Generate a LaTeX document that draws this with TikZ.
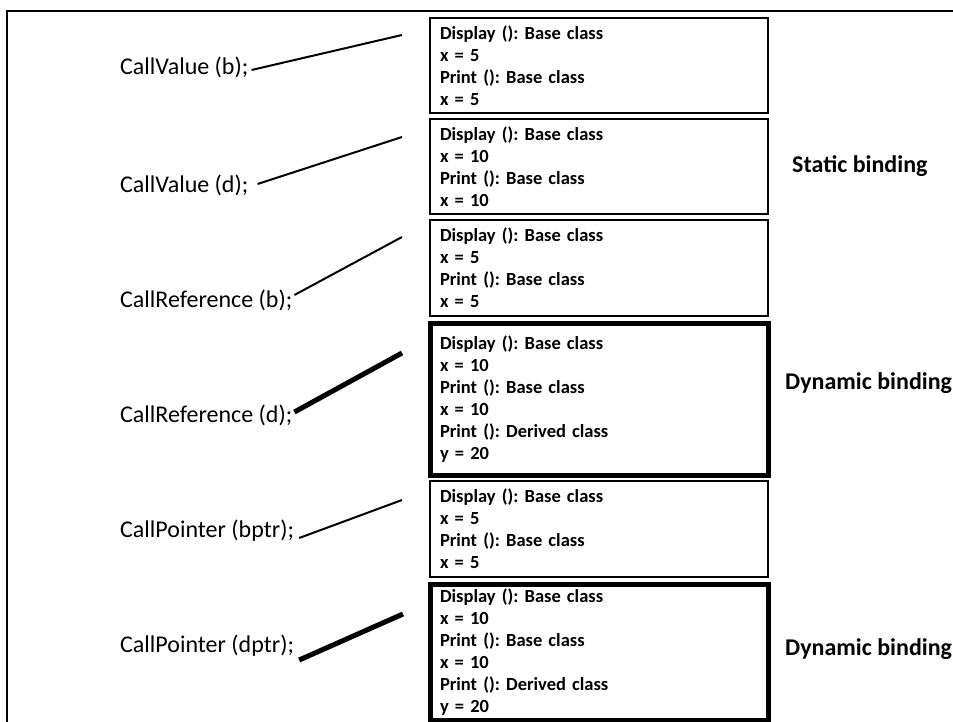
\documentclass[tikz,border=0pt]{standalone}
\usepackage{fontspec}
\setmainfont{Carlito}
\frenchspacing

\tikzset{
  callLabel/.style={anchor=base west, inner sep=0pt, font=\fontsize{24}{29}\selectfont},
  bindLabel/.style={anchor=base west, inner sep=0pt, font=\bfseries\fontsize{24}{29}\selectfont},
  outBox/.style={draw, line width=2pt, text width=318pt, inner xsep=10pt, inner ysep=0pt,
    align=left, font=\bfseries\fontsize{18.5}{22}\selectfont},
  heavy/.style={line width=5pt},
  link/.style={line width=2pt},
}

\begin{document}
\begin{tikzpicture}[x=1pt,y=-1pt]
                \clip (0,0) rectangle (953,722);
                \draw[line width=2.5pt] (7,11) rectangle (980,760);

                % Nodes
                \node[callLabel] (ValueB) at (120,75) {CallValue (b);};
                \node[callLabel] (ValueD) at (120,193) {CallValue (d);};
                \node[callLabel] (RefB) at (120,307) {CallReference (b);};
                \node[callLabel] (RefD) at (120,422) {CallReference (d);};
                \node[callLabel] (PtrB) at (120,537) {CallPointer (bptr);};
                \node[callLabel] (PtrD) at (120,652) {CallPointer (dptr);};

                \node[outBox, minimum height=95pt] (OutValueB) at (599,65.5)
                  {Display (): Base class\\ x = 5\\ Print (): Base class\\ x = 5};
                \node[outBox, minimum height=95pt] (OutValueD) at (599,166.5)
                  {Display (): Base class\\ x = 10\\ Print (): Base class\\ x = 10};
                \node[outBox, minimum height=96pt] (OutRefB) at (599,268)
                  {Display (): Base class\\ x = 5\\ Print (): Base class\\ x = 5};
                \node[outBox, heavy, minimum height=152pt] (OutRefD) at (599,399)
                  {Display (): Base class\\ x = 10\\ Print (): Base class\\ x = 10\\ Print (): Derived class\\ y = 20};
                \node[outBox, minimum height=96pt] (OutPtrB) at (599,529)
                  {Display (): Base class\\ x = 5\\ Print (): Base class\\ x = 5};
                \node[outBox, heavy, minimum height=136pt] (OutPtrD) at (599,652)
                  {Display (): Base class\\ x = 10\\ Print (): Base class\\ x = 10\\ Print (): Derived class\\ y = 20};

                \node[bindLabel] (StaticBind) at (792,173) {Static binding};
                \node[bindLabel] (DynamicRef) at (785,389) {Dynamic binding};
                \node[bindLabel] (DynamicPtr) at (785,655) {Dynamic binding};

                \coordinate (EndValueB) at (402,35);
                \coordinate (EndValueD) at (402,137);
                \coordinate (EndRefB) at (402,237);
                \coordinate (EndRefD) at (402,353);
                \coordinate (EndPtrB) at (402,500);
                \coordinate (EndPtrD) at (403,614);

                % Lines
                \draw[link] ([xshift=3pt,yshift=5pt]ValueB.base east) -- (EndValueB);
                \draw[link] ([xshift=9pt,yshift=9pt]ValueD.base east) -- (EndValueD);
                \draw[link] ([xshift=2pt,yshift=12pt]RefB.base east) -- (EndRefB);
                \draw[heavy] ([xshift=2pt,yshift=10pt]RefD.base east) -- (EndRefD);
                \draw[link] ([xshift=5pt,yshift=-1pt]PtrB.base east) -- (EndPtrB);
                \draw[heavy] ([xshift=5pt,yshift=-8pt]PtrD.base east) -- (EndPtrD);
              \end{tikzpicture}
\end{document}
